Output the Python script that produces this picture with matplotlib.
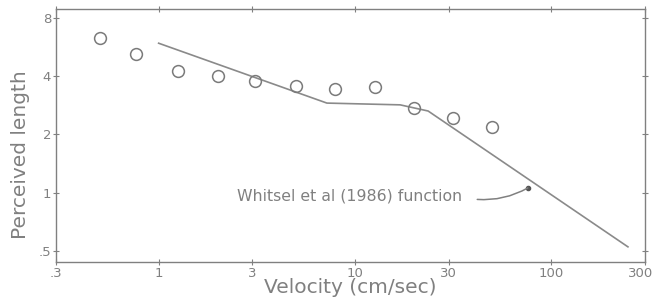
import matplotlib
matplotlib.use("Agg")
import matplotlib.pyplot as plt
import matplotlib.transforms as mtransforms
from matplotlib.ticker import NullLocator

# observed points (velocity cm/sec, perceived length)
velocity = [0.5, 0.77, 1.25, 2.0, 3.1, 5.0, 7.9, 12.6, 20.0, 31.6, 50.0]
perceived = [6.3, 5.2, 4.25, 4.0, 3.77, 3.57, 3.43, 3.5, 2.75, 2.42, 2.19]

# Whitsel et al (1986) function, piecewise
func_x = [1.0, 7.2, 17.0, 23.6, 246.0]
func_y = [5.9, 2.9, 2.84, 2.64, 0.527]

xticks = [0.3, 1, 3, 10, 30, 100, 300]
xticklabels = [".3", "1", "3", "10", "30", "100", "300"]
yticks = [0.5, 1, 2, 4, 8]
yticklabels = [".5", "1", "2", "4", "8"]

grey = "#808080"
plt.rcParams["font.family"] = ["DejaVu Sans"]

fig = plt.figure(figsize=(6.55, 3.01), dpi=100)
ax = fig.add_axes([0.0855, 0.130, 0.899, 0.840])

ax.plot(func_x, func_y, color="#8a8a8a", lw=1.2)
ax.plot(velocity, perceived, "o", ms=8.5, mfc="none", mec="#7a7a7a", mew=1.1)

ax.set_xscale("log")
ax.set_yscale("log")
ax.set_xlim(0.3, 300)
ax.set_ylim(0.441, 8.85)

ax.set_xticks(xticks)
ax.set_xticklabels(xticklabels)
ax.set_yticks(yticks)
ax.set_yticklabels(yticklabels)
ax.xaxis.set_minor_locator(NullLocator())
ax.yaxis.set_minor_locator(NullLocator())

ax.tick_params(which="both", direction="inout", length=5, width=0.8,
               colors=grey, labelsize=9.5, top=True, right=True, pad=1)
for s in ax.spines.values():
    s.set_color(grey)
    s.set_linewidth(1.0)

# last x label sits on the figure edge, nudge it in a little
lab = ax.get_xticklabels()[-1]
lab.set_transform(lab.get_transform() +
                  mtransforms.ScaledTranslation(-4 / 100, 0, fig.dpi_scale_trans))

ax.set_xlabel("Velocity (cm/sec)", color=grey, fontsize=14.5, labelpad=-1)
ax.set_ylabel("Perceived length", color=grey, fontsize=14.5)
ax.yaxis.set_label_coords(-0.044, 0.423)

ax.text(2.5, 0.965, "Whitsel et al (1986) function", color=grey,
        fontsize=11.3, va="center")
ax.annotate("", xy=(76, 1.06), xytext=(42, 0.925),
            arrowprops=dict(arrowstyle="-", color=grey, lw=1.1,
                            shrinkA=0, shrinkB=0,
                            connectionstyle="arc3,rad=0.15"))
ax.plot([76], [1.06], "o", ms=3, color="#555555")

fig.savefig("out.png", dpi=100)
